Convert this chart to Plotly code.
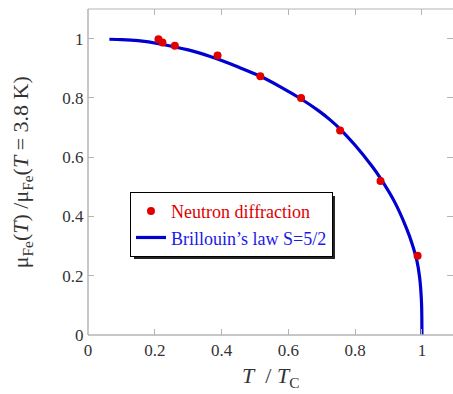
import plotly.graph_objects as go

# Neutron diffraction data (T/Tc, normalized moment)
nd_x = [0.211, 0.223, 0.260, 0.388, 0.516, 0.638, 0.755, 0.876, 0.987]
nd_y = [0.998, 0.987, 0.976, 0.943, 0.873, 0.800, 0.690, 0.520, 0.267]

# Brillouin S=5/2 curve
br_x = [0.064, 0.10, 0.15, 0.216, 0.30, 0.366, 0.396, 0.45, 0.516, 0.58, 0.636,
        0.69, 0.726, 0.755, 0.80, 0.85, 0.875, 0.92, 0.952, 0.970, 0.985, 0.993,
        0.997, 0.9990, 0.9997, 1.0]
br_y = [0.998, 0.997, 0.993, 0.982, 0.962, 0.940, 0.928, 0.904, 0.873, 0.835, 0.798,
        0.757, 0.725, 0.695, 0.640, 0.570, 0.530, 0.445, 0.365, 0.310, 0.250, 0.195,
        0.145, 0.100, 0.055, 0.0]

x_ticks = [0, 0.2, 0.4, 0.6, 0.8, 1]
y_ticks = [0, 0.2, 0.4, 0.6, 0.8, 1]

FONT = "Liberation Serif"
AX = "#b4b4b4"

fig = go.Figure()
fig.add_trace(go.Scatter(
    x=br_x, y=br_y, mode="lines",
    line=dict(color="#0000d0", width=3.2, shape="spline", smoothing=0.6),
    name="<span style='color:#1a1ae6'>Brillouin’s law S=5/2</span>",
))
fig.add_trace(go.Scatter(
    x=nd_x, y=nd_y, mode="markers",
    marker=dict(color="#e00000", size=8),
    name="<span style='color:#e00000'>Neutron diffraction</span>",
))

axis_common = dict(
    showgrid=False, zeroline=False, showline=True, linecolor="rgba(0,0,0,0)",
    mirror="ticks", ticks="inside", ticklen=6, tickcolor=AX, tickwidth=1,
    tickfont=dict(family=FONT, size=17, color="#333333"),
)

LX, LY = 0.115, 0.439
LW, LH = 201, 63

fig.update_layout(
    width=453, height=394,
    margin=dict(l=88, r=0, t=9, b=59),
    paper_bgcolor="white", plot_bgcolor="white",
    font=dict(family=FONT),
    showlegend=True,
    legend=dict(
        x=LX, y=LY, xanchor="left", yanchor="top",
        bgcolor="white", bordercolor="black", borderwidth=1,
        font=dict(family=FONT, size=18),
        traceorder="reversed",
        tracegroupgap=0,
    ),
    xaxis=dict(range=[0, 1.093], tickvals=x_ticks, **axis_common),
    yaxis=dict(range=[0, 1.1], tickvals=y_ticks, **axis_common),
    shapes=[
        dict(type="line", xref="paper", yref="paper", x0=0, x1=0, y0=0, y1=1,
             line=dict(color=AX, width=1.5)),
        dict(type="line", xref="paper", yref="paper", x0=0, x1=1, y0=0, y1=0,
             line=dict(color=AX, width=1.5)),
        dict(type="line", xref="paper", yref="paper", x0=0, x1=1, y0=1, y1=1,
             line=dict(color=AX, width=1)),
        # legend drop shadow
        dict(type="rect", xref="paper", yref="paper",
             x0=LX + 4 / 365, x1=LX + (LW + 4) / 365,
             y0=LY - (LH + 4) / 326, y1=LY - 4 / 326,
             fillcolor="#222222", line=dict(width=0), layer="above"),
    ],
    annotations=[
        dict(text="μ<sub>Fe</sub>(<i>T</i>) /μ<sub>Fe</sub>(<i>T</i> = 3.8 K)",
             xref="paper", yref="paper", x=-0.18, y=0.5, textangle=-90,
             showarrow=False, font=dict(family=FONT, size=22, color="#333333"),
             xanchor="center", yanchor="middle"),
        dict(text="<i>T</i>  / <i>T</i><sub>C</sub>",
             xref="paper", yref="paper", x=0.499, y=-0.128,
             showarrow=False, font=dict(family=FONT, size=22, color="#333333"),
             xanchor="center", yanchor="middle"),
    ],
)

fig.write_html("out.html", config={"displayModeBar": False},
               post_script="document.body.style.margin='0';document.body.style.overflow='hidden';")
